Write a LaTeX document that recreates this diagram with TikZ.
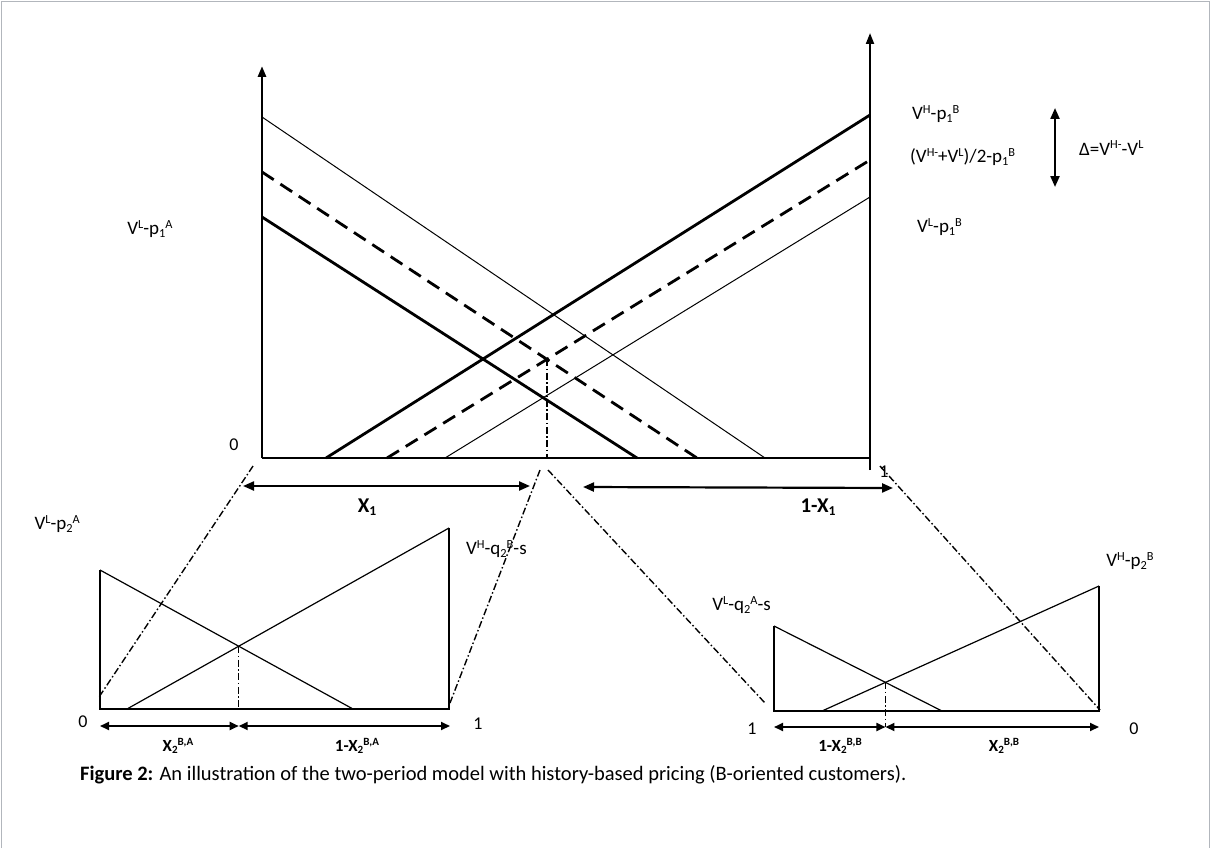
\documentclass[tikz,border=0pt]{standalone}
\usepackage{fontspec}
\usepackage{graphicx}
\setmainfont{Carlito}
\usetikzlibrary{arrows.meta,positioning,calc}
\definecolor{framegray}{RGB}{178,182,188}
\newcommand{\upx}[1]{\raisebox{0.36em}{\scalebox{0.65}{#1}}}
\newcommand{\dnx}[1]{\raisebox{-0.12em}{\scalebox{0.65}{#1}}}

\begin{document}
\begin{tikzpicture}[x=1pt,y=-1pt,
    every node/.style={font=\fontsize{19}{22}\selectfont, inner sep=0pt},
    thinline/.style={line width=1pt},
    thickline/.style={line width=2.8pt},
    dashline/.style={line width=2.8pt, dash pattern=on 14pt off 8pt},
    guide/.style={line width=1.4pt, dash pattern=on 7pt off 2.5pt on 1.5pt off 2.5pt},
    smallline/.style={line width=1.2pt},
    span/.style={line width=2.2pt, {Triangle[length=11pt,width=9pt]}-{Triangle[length=11pt,width=9pt]}},
    subspan/.style={line width=1.8pt, {Triangle[length=9pt,width=8pt]}-{Triangle[length=9pt,width=8pt]}},
    axis/.style={-{Triangle[length=11pt,width=8pt]}},
    share/.style={font=\fontsize{21}{24}\selectfont\bfseries},
    subshare/.style={font=\fontsize{17}{19}\selectfont\bfseries},
    digit/.style={font=\fontsize{18}{21}\selectfont}
]
\useasboundingbox (0,0) rectangle (1214,848);
\draw[framegray, line width=1.5pt] (1.5,848) -- (1.5,1.5) -- (1209.5,1.5) -- (1209.5,848);

% first period
\coordinate (O) at (262,458);
\coordinate (E) at (870,458);
\coordinate (Ltop) at (262,66);
\coordinate (Rtop) at (870,33);
\coordinate (Rlow) at (870,470);
\coordinate (a1) at (262,117);  \coordinate (a1e) at (765,458);
\coordinate (a2) at (262,172);  \coordinate (a2e) at (697,458);
\coordinate (a3) at (262,217);  \coordinate (a3e) at (637,458);
\coordinate (b1) at (326,458);  \coordinate (b1e) at (870,115);
\coordinate (b2) at (387,458);  \coordinate (b2e) at (870,160);
\coordinate (b3) at (445,458);  \coordinate (b3e) at (870,197);

\draw[thickline, axis] (O) -- (Ltop);
\draw[line width=2pt, axis] (Rlow) -- (Rtop);
\draw[thickline] (E) -- (b1e);
\draw[thickline] (O) -- (E);

\draw[thinline] (a1) -- (a1e);
\draw[dashline] (a2) -- (a2e);
\draw[thickline] (a3) -- (a3e);
\draw[thickline] (b1) -- (b1e);
\draw[dashline] (b2) -- (b2e);
\draw[thinline] (b3) -- (b3e);

\coordinate (K) at (intersection of a2--a2e and b2--b2e);
\coordinate (Kb) at (K |- O);
\draw[guide] (K) -- (Kb);

\node[digit] (zero) at (234,445) {0};
\node[digit] (one) at (884,472) {1};
\node (vla) at (150,229) {V\upx{L}-p\dnx{1}\upx{A}};
\node[anchor=west] (vhb) at (912,114) {V\upx{H}-p\dnx{1}\upx{B}};
\node[anchor=west] (vmb) at (910,157) {(V\upx{H-}+V\upx{L})/2-p\dnx{1}\upx{B}};
\node[anchor=west] (vlb) at (917,227) {V\upx{L}-p\dnx{1}\upx{B}};
\node[anchor=west] (delta) at (1079,148) {Δ=V\upx{H-}-V\upx{L}};
\coordinate (d1) at (1055,108);
\coordinate (d2) at (1055,187);
\draw[span] (d1) -- (d2);

% shares
\coordinate (x1a) at (243,486);  \coordinate (x1b) at (530,486);
\coordinate (x2a) at (583,487);  \coordinate (x2b) at (893,488);
\draw[span] (x1a) -- (x1b);
\draw[span] (x2a) -- (x2b);
\node[share] (x1) at (367,507) {X\dnx{1}};
\node[share] (x1c) at (818,507) {1-X\dnx{1}};

% second period, A side
\coordinate (p) at (100,709);   \coordinate (pt) at (100,570);
\coordinate (q) at (449,709);   \coordinate (qt) at (449,528);
\coordinate (pd) at (353,709);  \coordinate (pa) at (127,709);
\draw[smallline] (pt) -- (p) -- (q) -- (qt);
\draw[smallline] (pt) -- (pd);
\draw[smallline] (pa) -- (qt);
\coordinate (P) at (intersection of pt--pd and pa--qt);
\coordinate (Pb) at (P |- p);
\draw[guide] (P) -- (Pb);
\coordinate (pl) at (100,726);  \coordinate (pm) at (P |- pl);  \coordinate (pr) at (450,726);
\draw[subspan] (pl) -- (pm);
\draw[subspan] (pm) -- (pr);
\node[digit] (zeroA) at (83,722) {0};
\node[digit] (oneA) at (478,724) {1};
\node[subshare] (xba) at (178,746) {X\dnx{2}\upx{B,A}};
\node[subshare] (xbac) at (357,746) {1-X\dnx{2}\upx{B,A}};
\node[anchor=east] (vlpa) at (80,524) {V\upx{L}-p\dnx{2}\upx{A}};
\node[anchor=west] (vhqb) at (466,549) {V\upx{H}-q\dnx{2}\upx{B}-s};

% second period, B side
\coordinate (r) at (774,711);   \coordinate (rt) at (774,626);
\coordinate (s) at (1099,711);  \coordinate (st) at (1099,586);
\coordinate (rd) at (942,711);  \coordinate (ra) at (822,711);
\draw[smallline] (rt) -- (r) -- (s) -- (st);
\draw[smallline] (rt) -- (rd);
\draw[smallline] (ra) -- (st);
\coordinate (R) at (intersection of rt--rd and ra--st);
\coordinate (rl) at (774,727);  \coordinate (rm) at (R |- rl);  \coordinate (rr) at (1099,727);
\draw[guide] (R) -- (rm);
\draw[subspan] (rl) -- (rm);
\draw[subspan] (rm) -- (rr);
\node[digit] (oneB) at (752,729) {1};
\node[digit] (zeroB) at (1134,729) {0};
\node[subshare] (xbbc) at (840,746) {1-X\dnx{2}\upx{B,B}};
\node[subshare] (xbb) at (1004,746) {X\dnx{2}\upx{B,B}};
\node[anchor=east] (vlqa) at (771,605) {V\upx{L}-q\dnx{2}\upx{A}-s};
\node (vhpb) at (1130,561) {V\upx{H}-p\dnx{2}\upx{B}};

% links between the periods
\coordinate (g1) at (253,466);  \coordinate (g2) at (540,470);
\coordinate (g3) at (548,470);  \coordinate (g4) at (880,466);
\coordinate (h1) at (99,697);   \coordinate (h2) at (450,703);
\coordinate (h3) at (765,703);  \coordinate (h4) at (1100,710);
\draw[guide] (g1) -- (h1);
\draw[guide] (g2) -- (h2);
\draw[guide] (g3) -- (h3);
\draw[guide] (g4) -- (h4);

\node[anchor=west, font=\fontsize{20.5}{24}\selectfont] (caption) at (80,775)
  {\textbf{Figure 2:} An illustration of the two-period model with history-based pricing (B-oriented customers).};
\end{tikzpicture}
\end{document}
